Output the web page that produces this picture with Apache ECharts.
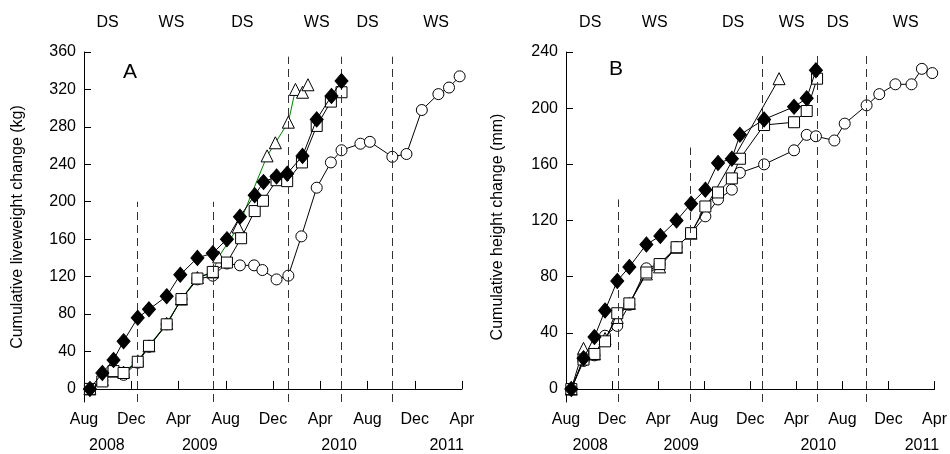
<!DOCTYPE html>
<html>
<head>
<meta charset="utf-8">
<script src="https://cdn.jsdelivr.net/npm/echarts@6/dist/echarts.min.js"></script>
<style>
html, body { margin: 0; padding: 0; background: #fff; }
#chart { width: 950px; height: 454px; }
</style>
</head>
<body>
<div id="chart"></div>
<script>
// x values are months counted from Aug 2008
var monthTicks = [0, 4, 8, 12, 16, 20, 24, 28, 32];
var monthLabels = ["Aug", "Dec", "Apr", "Aug", "Dec", "Apr", "Aug", "Dec", "Apr"];
var yearLabels = ["2008", "2009", "2010", "2011"];
var seasonLabels = ["DS", "WS", "DS", "WS", "DS", "WS"];

// panel A - liveweight (kg)
var yTicksA = [0, 40, 80, 120, 160, 200, 240, 280, 320, 360];
var yearPosA = [1.94, 9.8, 21.6, 30.7];
var seasonPosA = [2.0, 7.4, 13.4, 19.7, 24.0, 29.8];
var boundA = [4.55, 10.95, 17.3, 21.8, 26.1];
var boundTopA = [200, 200, 355, 355, 355];

var diamondMonA = [0.5, 1.55, 2.5, 3.35, 4.55, 5.5, 7.0, 8.15, 9.6, 10.9, 12.1, 13.2, 14.45, 15.2, 16.3, 17.2, 18.5, 19.7, 20.95, 21.8];
var diamondA = [0, 17, 31, 51, 76, 85, 99, 122, 140, 145, 160, 184, 207, 221, 227, 230, 249, 288, 313, 329];

var squareMonA = [0.5, 1.55, 2.5, 3.35, 4.55, 5.5, 7.0, 8.25, 9.6, 10.9, 12.1, 13.3, 14.45, 15.15, 16.3, 17.2, 18.45, 19.7, 20.9, 21.8];
var squareA = [0, 8, 19, 17, 29, 46, 69, 96, 118, 125, 135, 161, 190, 201, 223, 222, 242, 281, 307, 317];

var triangleMonA = [0.5, 1.55, 2.5, 3.35, 4.55, 5.5, 7.0, 8.25, 9.6, 10.9, 11.4, 13.05, 15.5, 16.2, 17.3, 17.9, 18.5, 18.96];
var triangleA = [0, 10, 19, 18, 30, 46, 70, 96, 119, 125, 141, 173, 249, 263, 285, 320, 317, 325];

var circleMonA = [0.5, 1.55, 2.5, 3.35, 4.55, 5.5, 7.0, 8.25, 9.6, 10.9, 12.1, 13.2, 14.4, 15.1, 16.3, 17.3, 18.4, 19.7, 20.9, 21.8, 23.4, 24.2, 26.1, 27.3, 28.6, 30.0, 30.9, 31.8];
var circleA = [0, 9, 20, 15, 28, 45, 69, 96, 117, 121, 134, 132, 132, 127, 117, 121, 163, 215, 242, 255, 262, 264, 248, 251, 298, 315, 322, 334];

// panel B - height (mm)
var yTicksB = [0, 40, 80, 120, 160, 200, 240];
var yearPosB = [2.1, 10.0, 21.9, 30.9];
var seasonPosB = [2.1, 7.7, 14.5, 19.6, 23.6, 29.5];
var boundB = [4.5, 10.83, 17.03, 21.8, 26.1];
var boundTopB = [135, 172, 238, 238, 238];

var diamondMonB = [0.46, 1.52, 2.47, 3.39, 4.45, 5.5, 6.98, 8.19, 9.6, 10.86, 12.1, 13.2, 14.4, 15.1, 17.2, 19.8, 20.9, 21.7];
var diamondB = [0, 22, 37, 56, 77, 87, 103, 109, 120, 132, 142, 161, 164, 181, 192, 201, 207, 227];

var squareMonB = [0.46, 1.52, 2.47, 3.39, 4.45, 5.5, 6.98, 8.13, 9.6, 10.86, 12.1, 13.2, 14.4, 15.1, 17.2, 19.8, 20.9, 21.8];
var squareB = [0, 21, 25, 34, 54, 61, 83, 89, 101, 111, 130, 140, 150, 164, 188, 190, 198, 221];

var triangleMonB = [0.46, 1.52, 2.47, 3.39, 4.45, 5.5, 6.98, 8.13, 9.6, 10.86, 18.5];
var triangleB = [0, 29, 25, 36, 51, 61, 82, 87, 101, 111, 221];

var circleMonB = [0.46, 1.52, 2.47, 3.39, 4.45, 5.5, 6.98, 8.13, 9.6, 10.86, 12.1, 13.2, 14.4, 15.1, 17.2, 19.8, 20.9, 21.7, 23.3, 24.2, 26.1, 27.2, 28.6, 30.0, 30.9, 31.8];
var circleB = [0, 20, 24, 38, 45, 60, 86, 89, 101, 111, 123, 135, 142, 154, 160, 170, 181, 180, 177, 189, 202, 210, 217, 217, 228, 225];

var font = "Liberation Sans, Arial, sans-serif";

function pairs(xs, ys) {
  return xs.map(function (x, i) { return [x, ys[i]]; });
}

function pick(pos, labels) {
  return function (v) {
    var i = pos.indexOf(v);
    return i < 0 ? "" : labels[i];
  };
}

function dashed(bounds, tops, ymin) {
  return bounds.map(function (x, i) {
    return [{ coord: [x, ymin] }, { coord: [x, tops[i]] }];
  });
}

var grids = [
  { left: 84, top: 52, width: 378, height: 352 },
  { left: 566, top: 52, width: 371, height: 352 }
];

var xAxes = [];
var yAxes = [];
var series = [];

function panel(g, cfg) {
  // month axis
  xAxes.push({
    type: "value", gridIndex: g, min: 0, max: 32,
    splitLine: { show: false },
    axisLine: { lineStyle: { color: "#000", width: 1 } },
    axisTick: { inside: true, length: 8, customValues: monthTicks, lineStyle: { color: "#000" } },
    axisLabel: { customValues: monthTicks, formatter: pick(monthTicks, monthLabels), color: "#000", fontSize: 16, fontFamily: font, margin: 10 }
  });
  // year labels
  xAxes.push({
    type: "value", gridIndex: g, min: 0, max: 32, position: "bottom",
    splitLine: { show: false }, axisLine: { show: false }, axisTick: { show: false },
    axisLabel: { customValues: cfg.yearPos, formatter: pick(cfg.yearPos, yearLabels), color: "#000", fontSize: 16, fontFamily: font, margin: 36 }
  });
  // season labels on top
  xAxes.push({
    type: "value", gridIndex: g, min: 0, max: 32, position: "top",
    splitLine: { show: false }, axisLine: { show: false }, axisTick: { show: false },
    axisLabel: { customValues: cfg.seasonPos, formatter: pick(cfg.seasonPos, seasonLabels), color: "#000", fontSize: 16, fontFamily: font, margin: 21 }
  });
  yAxes.push({
    type: "value", gridIndex: g, min: cfg.ymin, max: cfg.ymax,
    name: cfg.name, nameLocation: "middle", nameGap: cfg.nameGap,
    nameTextStyle: { color: "#000", fontSize: 16, fontFamily: font },
    splitLine: { show: false },
    axisLine: { show: true, lineStyle: { color: "#000", width: 1 } },
    axisTick: { show: true, inside: true, length: 7, customValues: cfg.yTicks, lineStyle: { color: "#000" } },
    axisLabel: { customValues: cfg.yTicks, color: "#000", fontSize: 16, fontFamily: font, margin: 8 }
  });

  var xi = g * 3, yi = g;
  var base = {
    type: "line", xAxisIndex: xi, yAxisIndex: yi, animation: false,
    lineStyle: { color: "#000", width: 1 },
    itemStyle: { color: "#fff", borderColor: "#000", borderWidth: 1 }
  };

  series.push(Object.assign({}, base, {
    name: "circle" + g, data: pairs(cfg.circleMon, cfg.circle),
    symbol: "circle", symbolSize: 11, z: 2,
    markLine: {
      silent: true, symbol: "none", animation: false,
      label: { show: false },
      lineStyle: { color: "#333", width: 1, type: [8, 5] },
      data: dashed(cfg.bound, cfg.boundTop, cfg.ymin)
    }
  }));
  series.push(Object.assign({}, base, {
    name: "triangle" + g, data: pairs(cfg.triangleMon, cfg.triangle),
    symbol: "triangle", symbolSize: 12, z: 3,
    lineStyle: { color: cfg.triColor, width: 1 }
  }));
  series.push(Object.assign({}, base, {
    name: "square" + g, data: pairs(cfg.squareMon, cfg.square),
    symbol: "rect", symbolSize: 11, z: 4
  }));
  series.push(Object.assign({}, base, {
    name: "diamond" + g, data: pairs(cfg.diamondMon, cfg.diamond),
    symbol: "diamond", symbolSize: [13, 15], z: 5,
    itemStyle: { color: "#000", borderColor: "#000", borderWidth: 1 }
  }));
}

panel(0, {
  name: "Cumulative liveweight change (kg)", nameGap: 58,
  ymin: -14, ymax: 360, yTicks: yTicksA,
  yearPos: yearPosA, seasonPos: seasonPosA,
  bound: boundA, boundTop: boundTopA,
  diamondMon: diamondMonA, diamond: diamondA,
  squareMon: squareMonA, square: squareA,
  triangleMon: triangleMonA, triangle: triangleA, triColor: "#008000",
  circleMon: circleMonA, circle: circleA
});

panel(1, {
  name: "Cumulative height change (mm)", nameGap: 60,
  ymin: -9.2, ymax: 240, yTicks: yTicksB,
  yearPos: yearPosB, seasonPos: seasonPosB,
  bound: boundB, boundTop: boundTopB,
  diamondMon: diamondMonB, diamond: diamondB,
  squareMon: squareMonB, square: squareB,
  triangleMon: triangleMonB, triangle: triangleB, triColor: "#000",
  circleMon: circleMonB, circle: circleB
});

var chart = echarts.init(document.getElementById("chart"));
chart.setOption({
  animation: false,
  backgroundColor: "#fff",
  grid: grids,
  xAxis: xAxes,
  yAxis: yAxes,
  series: series,
  graphic: [
    { type: "text", left: 123, top: 62, style: { text: "A", fontSize: 21, fontFamily: font, fill: "#000" } },
    { type: "text", left: 609, top: 59, style: { text: "B", fontSize: 21, fontFamily: font, fill: "#000" } }
  ]
});
</script>
</body>
</html>
